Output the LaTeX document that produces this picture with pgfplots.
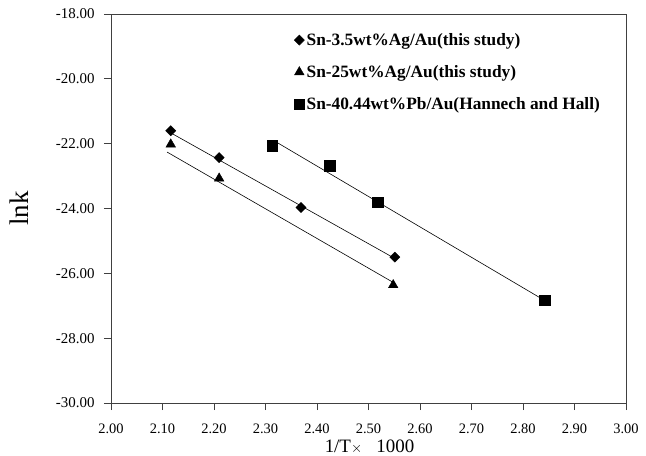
\documentclass[border=0pt]{standalone}
\usepackage{fontspec}
\setmainfont{Liberation Serif}
\usepackage{pgfplots}
\pgfplotsset{compat=1.18}
\begin{document}
\begin{tikzpicture}
\useasboundingbox (-111bp,-53bp) rectangle (535bp,403bp);
\begin{axis}[
  at={(0,0)}, anchor=south west,
  scale only axis, width=515bp, height=389bp,
  xmin=2, xmax=3, ymin=-30, ymax=-18,
  xtick={2,2.1,...,3.01}, ytick={-30,-28,...,-18},
  tick align=outside, tick pos=left,
  major tick length=7bp,
  axis line style={line width=0.9bp, black!75},
  tick style={line width=0.8bp, black!75},
  /pgf/number format/assume math mode=true,
  xticklabel style={/pgf/number format/.cd, fixed, fixed zerofill, precision=2, /tikz/.cd, font=\fontsize{14.5}{16}\selectfont, yshift=-10bp},
  yticklabel style={/pgf/number format/.cd, fixed, fixed zerofill, precision=2, /tikz/.cd, font=\fontsize{15}{16}\selectfont, xshift=-6bp},
  xlabel={1/T{\fontsize{15}{16}\selectfont$\times$}\ \ \ 1000},
  ylabel={lnk},
  xlabel style={font=\fontsize{19}{21}\selectfont, at={(axis description cs:0.5,0)}, anchor=center, yshift=-44bp, xshift=1bp},
  ylabel style={font=\fontsize{27}{29}\selectfont, at={(axis description cs:0,0.5)}, anchor=center, yshift=92bp},
  legend style={draw=none, fill=none, at={(0.355,0.956)}, anchor=north west,
    font=\fontsize{17.4}{19}\bfseries, row sep=14.5bp, inner sep=0pt,
    legend cell align=left},
  legend image code/.code={\draw[#1] plot coordinates {(0.12cm,0cm)};},
  clip=false,
]
% fitted lines
\addplot[black, line width=0.6bp, forget plot] coordinates {(2.112,-21.63) (2.551,-25.54)};
\addplot[black, line width=0.6bp, forget plot] coordinates {(2.109,-22.26) (2.548,-26.28)};
\addplot[black, line width=0.6bp, forget plot] coordinates {(2.322,-21.96) (2.838,-26.80)};
% data
\addplot[only marks, mark=square*, mark options={rotate=45, fill=black}, mark size=3.6bp]
  coordinates {(2.116,-21.60) (2.210,-22.43) (2.369,-23.97) (2.551,-25.50)};
\addlegendentry{Sn-3.5wt\%Ag/Au(this study)}
\addplot[only marks, mark=triangle*, mark options={fill=black}, mark size=5.5bp]
  coordinates {(2.116,-22.02) (2.210,-23.07) (2.548,-26.36)};
\addlegendentry{Sn-25wt\%Ag/Au(this study)}
\addplot[only marks, mark=square*, mark options={fill=black}, mark size=5.3bp]
  coordinates {(2.313,-22.06) (2.425,-22.68) (2.518,-23.81) (2.842,-26.83)};
\addlegendentry{Sn-40.44wt\%Pb/Au(Hannech and Hall)}
\end{axis}
\end{tikzpicture}
\end{document}
